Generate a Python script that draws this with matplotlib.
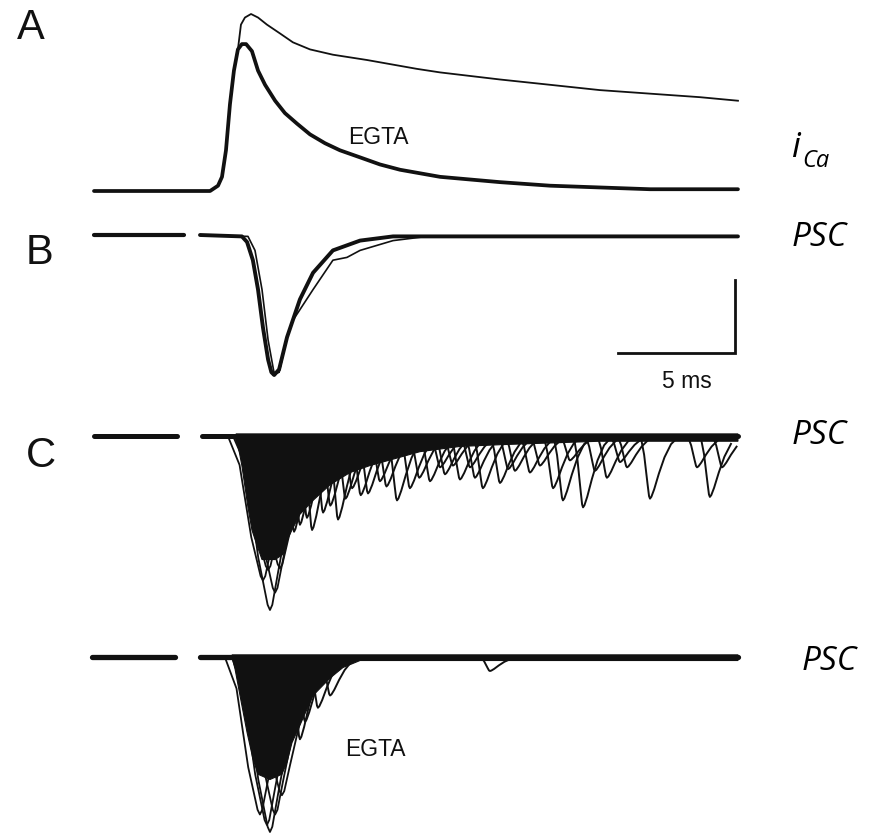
import numpy as np
import matplotlib
matplotlib.use("Agg")
import matplotlib.pyplot as plt

# ---------------- data (time in ms, currents normalised to peak) ----------------
# A: presynaptic calcium current, control (thin) and EGTA (thick)
ica_egta_t = [0.0, 2.39, 4.96, 5.30, 5.47, 5.64, 5.81, 5.98, 6.15, 6.32, 6.50, 6.75,
              7.01, 7.31, 7.74, 8.16, 8.68, 9.23, 9.87, 10.51, 11.37, 12.22, 13.08,
              14.79, 17.35, 19.49, 21.62, 23.76, 25.90, 27.52]
ica_egta = [0.0, 0.0, 0.0, 0.03, 0.08, 0.23, 0.49, 0.68, 0.80, 0.83, 0.83, 0.79,
            0.68, 0.60, 0.51, 0.44, 0.38, 0.32, 0.27, 0.23, 0.19, 0.15, 0.12,
            0.08, 0.05, 0.03, 0.02, 0.01, 0.01, 0.01]
ica_ctrl_t = [0.0, 2.39, 4.96, 5.30, 5.47, 5.64, 5.81, 5.98, 6.15, 6.28, 6.45, 6.71,
              7.01, 7.39, 7.95, 8.50, 9.23, 10.21, 11.67, 13.80, 14.79, 17.35,
              19.49, 21.62, 23.76, 25.90, 27.52]
ica_ctrl = [0.0, 0.0, 0.0, 0.03, 0.08, 0.23, 0.49, 0.68, 0.80, 0.94, 0.98, 1.0,
            0.98, 0.94, 0.89, 0.84, 0.80, 0.77, 0.74, 0.69, 0.67, 0.63,
            0.60, 0.57, 0.55, 0.53, 0.51]

# B: averaged PSCs
psc_b_t = [4.53, 6.32, 6.54, 6.79, 7.01, 7.22, 7.44, 7.58, 7.70, 7.91, 8.25, 8.80,
           9.36, 10.21, 11.37, 12.78, 17.35, 27.52]
psc_b_fast = [0, -0.01, -0.05, -0.18, -0.39, -0.66, -0.89, -0.98, -1.0, -0.96, -0.73,
              -0.46, -0.27, -0.11, -0.04, -0.01, -0.01, -0.01]
psc_b_late_t = [4.53, 6.58, 6.88, 7.18, 7.44, 7.69, 7.91, 8.25, 8.80, 9.36, 10.21,
                11.37, 12.78, 27.52]
psc_b_late = [0, -0.01, -0.11, -0.39, -0.75, -0.98, -0.98, -0.73, -0.46, -0.27,
              -0.11, -0.04, -0.01, -0.01]
psc_b_slow_t = [4.53, 6.32, 6.54, 6.79, 7.01, 7.22, 7.44, 7.65, 7.91, 8.25, 8.50,
                9.36, 10.21, 10.81, 11.37, 12.78, 14.23, 27.52]
psc_b_slow = [0, -0.01, -0.05, -0.18, -0.39, -0.66, -0.89, -1.0, -0.98, -0.73, -0.61,
              -0.39, -0.18, -0.16, -0.11, -0.04, -0.01, -0.01]

# C (control): envelope of superimposed sweeps
c1_env_t = [6.07, 6.15, 6.32, 6.58, 6.75, 6.97, 7.18, 7.74, 8.08, 8.25, 8.46, 8.80,
            9.36, 10.09, 10.94, 11.79, 12.86, 13.93, 15.64, 17.35, 19.49, 21.62, 27.52]
c1_env = [0.0, -0.05, -0.17, -0.41, -0.54, -0.63, -0.71, -0.71, -0.68, -0.60, -0.54,
          -0.45, -0.37, -0.28, -0.21, -0.17, -0.13, -0.09, -0.06, -0.05, -0.04,
          -0.03, -0.03]
# deepest sweeps of the synchronous response (trough time, amplitude)
c1_peak_t = [7.22, 7.44, 7.52, 7.74, 7.95]
c1_peak_amp = [0.83, 0.77, 1.0, 0.90, 0.76]
# delayed asynchronous events (trough time, amplitude)
c1_async_t = [8.55, 8.80, 9.10, 9.32, 9.79, 10.10, 10.43, 10.75, 11.03, 11.40, 11.71,
              12.22, 12.50, 12.95, 13.50, 13.90, 14.36, 14.79, 15.00, 15.34, 15.64,
              16.07, 16.28, 16.62, 17.35, 17.70, 17.99, 18.63, 19.06, 19.62, 20.04,
              20.34, 20.90, 21.41, 21.92, 22.48, 22.78, 23.76, 25.77, 26.32, 26.84]
c1_async_amp = [0.55, 0.51, 0.47, 0.54, 0.44, 0.40, 0.48, 0.36, 0.30, 0.34, 0.33,
                0.26, 0.29, 0.37, 0.30, 0.24, 0.26, 0.18, 0.22, 0.17, 0.25,
                0.18, 0.24, 0.30, 0.27, 0.19, 0.20, 0.21, 0.17, 0.30, 0.37,
                0.14, 0.41, 0.20, 0.24, 0.15, 0.18, 0.36, 0.18, 0.35, 0.18]

# C (EGTA)
c2_env_t = [5.90, 6.03, 6.24, 6.54, 6.79, 7.01, 7.52, 8.03, 8.25, 8.46, 8.80, 9.36,
            10.09, 10.64, 11.37, 13.08, 27.52]
c2_env = [0.0, -0.07, -0.22, -0.43, -0.58, -0.67, -0.70, -0.67, -0.60, -0.49,
          -0.39, -0.22, -0.12, -0.06, -0.02, -0.02, -0.02]
c2_peak_t = [7.09, 7.39, 7.52, 7.74, 8.03]
c2_peak_amp = [0.90, 0.96, 1.0, 0.90, 0.79]
c2_async_t = [8.80, 9.02, 9.57, 10.09, 16.92]
c2_async_amp = [0.47, 0.37, 0.29, 0.22, 0.08]

# pre-stimulus baseline segments (ms)
pre_b = [0.0, 3.83]
pre_c1 = [0.0, 3.55]
pre_c2 = [-0.09, 3.46]
post_start_b, post_start_c1, post_start_c2 = 4.53, 4.62, 4.53
t_end = 27.52

scale_ms = 5.0

# ---------------- figure ----------------
W, H = 876, 834
fig = plt.figure(figsize=(W / 100, H / 100), dpi=100)
fig.patch.set_facecolor("white")

PX_PER_MS = 23.4
X0_PX = 94
INK = "#111111"

# event waveform templates (offset from trough in ms, fraction of amplitude)
EV_OFF = np.array([-0.4, -0.25, -0.1, -0.04, 0.0, 0.06, 0.18, 0.38, 0.62, 0.9, 1.25])
EV_SHAPE = np.array([0, 0.3, 0.78, 0.96, 1.0, 0.97, 0.85, 0.6, 0.34, 0.13, 0.0])
BIG_OFF = np.array([-1.5, -1.0, -0.5, -0.1, 0.0, 0.1, 0.35, 0.8, 1.5, 2.5])
BIG_SHAPE = np.array([0.0, 0.2, 0.7, 0.97, 1.0, 0.97, 0.78, 0.45, 0.2, 0.05])


def panel_axes(v0, p0, v1, p1):
    """Transparent full-figure axes whose y scale puts value v0 at pixel row p0
    and v1 at pixel row p1 (rows counted from the top)."""
    ax = fig.add_axes([0, 0, 1, 1])
    s = (v1 - v0) / (p1 - p0)
    ax.set_ylim(v0 + s * (H - p0), v0 + s * (0 - p0))
    ax.set_xlim(-X0_PX / PX_PER_MS, (W - X0_PX) / PX_PER_MS)
    ax.axis("off")
    ax.patch.set_alpha(0)
    return ax


def draw_events(ax, times, amps, off, shape, lw):
    for tt, a in zip(times, amps):
        x = tt + off
        y = -a * shape
        keep = x <= t_end
        ax.plot(x[keep], y[keep], color=INK, lw=lw, solid_joinstyle="round")


# ---- A ----
axA = panel_axes(0.0, 191, 1.0, 14)
axA.plot(ica_ctrl_t, ica_ctrl, color=INK, lw=1.3)
axA.plot(ica_egta_t, ica_egta, color=INK, lw=2.7, solid_capstyle="round")

# ---- B ----
axB = panel_axes(0.0, 235, -1.0, 375)
axB.plot(pre_b, [0, 0], color=INK, lw=3.0, solid_capstyle="round")
axB.plot(psc_b_slow_t, psc_b_slow, color=INK, lw=1.2)
axB.plot(psc_b_late_t, psc_b_late, color=INK, lw=1.2)
axB.plot(psc_b_t, psc_b_fast, color=INK, lw=2.8, solid_capstyle="round",
         solid_joinstyle="round")
# scale bar
sb_x1 = 27.4
sb_x0 = sb_x1 - scale_ms
axB.plot([sb_x0, sb_x1, sb_x1], [-0.84, -0.84, -0.32], color=INK, lw=2.0,
         solid_joinstyle="miter")

# ---- C control ----
axC1 = panel_axes(0.0, 436, -1.0, 610)
axC1.plot(pre_c1, [0, 0], color=INK, lw=3.6, solid_capstyle="round")
draw_events(axC1, c1_peak_t, c1_peak_amp, BIG_OFF, BIG_SHAPE, 1.3)
axC1.fill(c1_env_t + [t_end, c1_env_t[0]], c1_env + [0.012, 0.012],
          color=INK, lw=0.8)
draw_events(axC1, c1_async_t, c1_async_amp, EV_OFF, EV_SHAPE, 1.4)
axC1.plot([post_start_c1, t_end], [0, 0], color=INK, lw=3.6, solid_capstyle="round")

# ---- C EGTA ----
axC2 = panel_axes(0.0, 657, -1.0, 832)
axC2.plot(pre_c2, [0, 0], color=INK, lw=3.8, solid_capstyle="round")
draw_events(axC2, c2_peak_t, c2_peak_amp, BIG_OFF, BIG_SHAPE, 1.3)
axC2.fill(c2_env_t + [t_end, c2_env_t[0]], c2_env + [0.012, 0.012],
          color=INK, lw=0.8)
draw_events(axC2, c2_async_t, c2_async_amp, EV_OFF, EV_SHAPE, 1.4)
axC2.plot([post_start_c2, t_end], [0, 0], color=INK, lw=3.8, solid_capstyle="round")


# ---------------- text ----------------
def fx(px):
    return px / W


def fy(py):
    return 1 - py / H


lab = dict(family="Liberation Sans", color=INK)
fig.text(fx(17), fy(28), "A", fontsize=30, ha="left", va="center", **lab)
fig.text(fx(26), fy(253), "B", fontsize=30, ha="left", va="center", **lab)
fig.text(fx(26), fy(456), "C", fontsize=30, ha="left", va="center", **lab)
fig.text(fx(378), fy(137), "EGTA", fontsize=16.5, ha="center", va="center", **lab)
fig.text(fx(375), fy(750), "EGTA", fontsize=16.5, ha="center", va="center", **lab)
fig.text(fx(687), fy(381), "5 ms", fontsize=16.5, ha="center", va="center", **lab)

rl = dict(family="Open Sans", style="italic", color="black")
fig.text(fx(791), fy(157), "i", fontsize=25, ha="left", va="baseline", **rl)
fig.text(fx(802), fy(167), "Ca", fontsize=17, ha="left", va="baseline", **rl)
fig.text(fx(792), fy(237), "PSC", fontsize=24, ha="left", va="center", **rl)
fig.text(fx(792), fy(436), "PSC", fontsize=24, ha="left", va="center", **rl)
fig.text(fx(802), fy(662), "PSC", fontsize=24, ha="left", va="center", **rl)

fig.savefig("out.png", dpi=100, facecolor="white")
